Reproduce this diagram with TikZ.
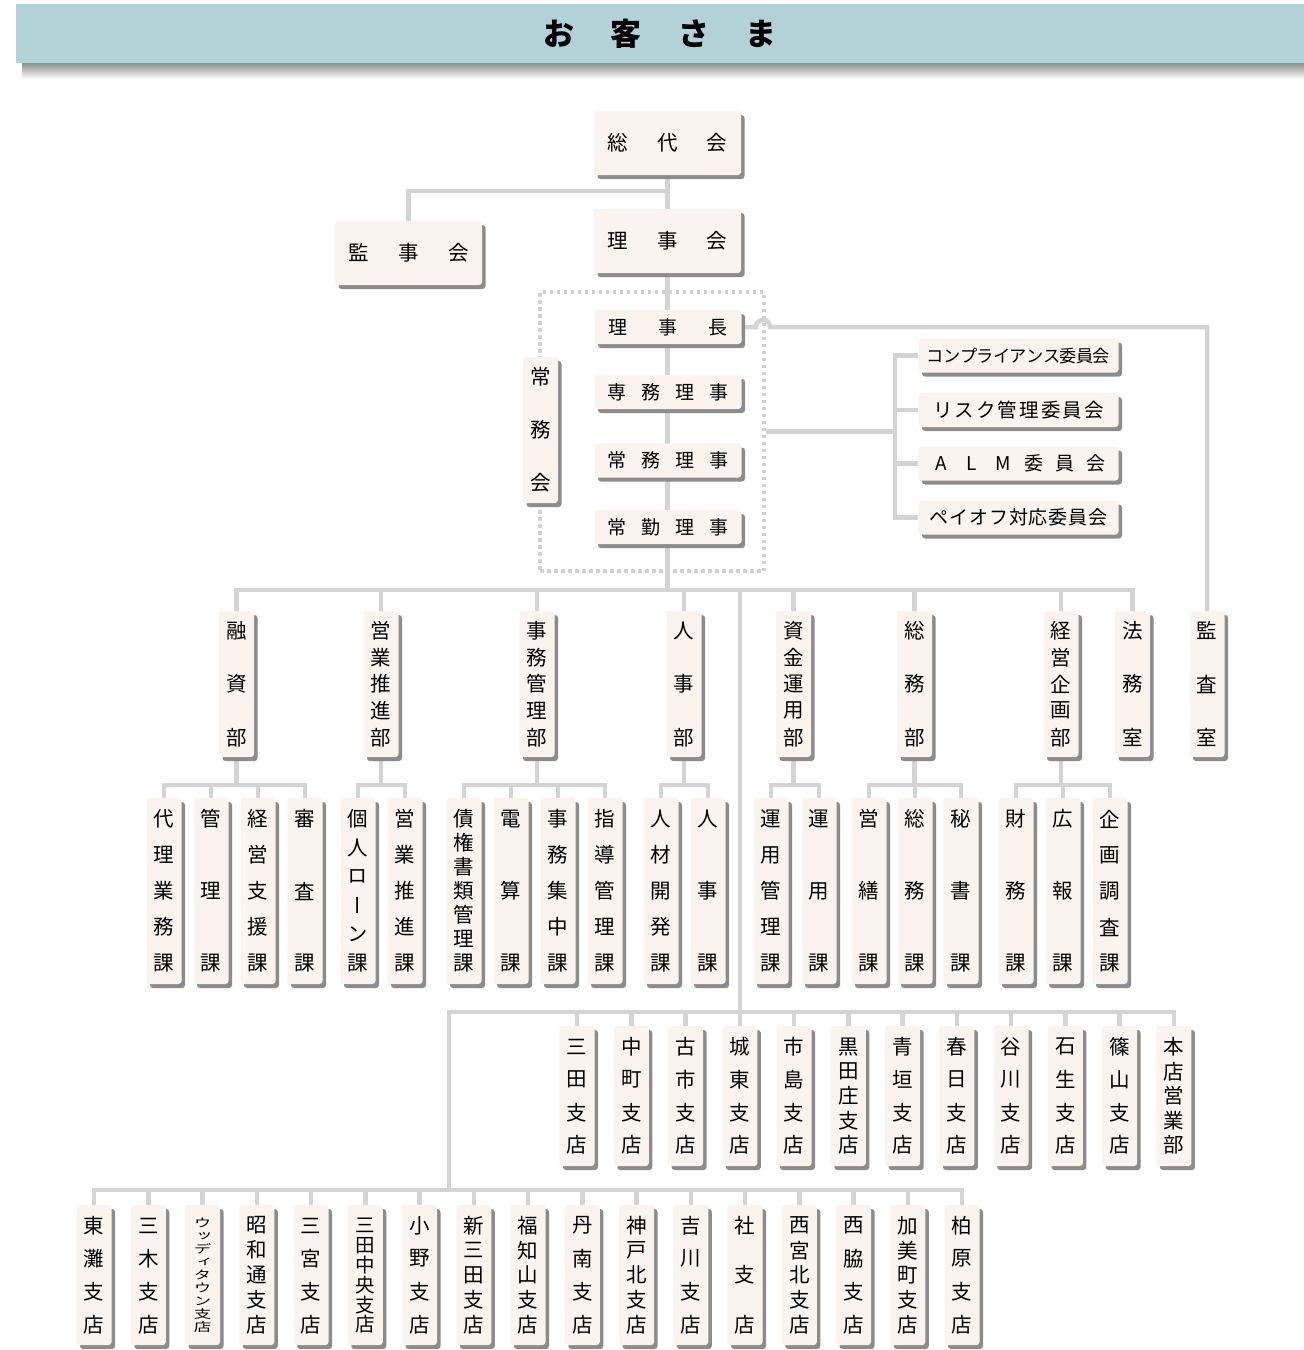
\documentclass[tikz,border=0pt]{standalone}
\usepackage{graphicx}
\usepackage{fontspec}
\setmainfont{Noto Sans CJK JP}
\newfontfamily\vjp[RawFeature=+vert]{Noto Sans CJK JP}
\usetikzlibrary{shadows}
\definecolor{boxfill}{RGB}{251,243,237}
\definecolor{linec}{RGB}{212,212,212}
\definecolor{dotc}{RGB}{210,210,210}
\definecolor{shadowc}{RGB}{140,140,140}
\definecolor{headc}{RGB}{178,210,216}
\pgfdeclarelayer{bg}\pgfsetlayers{bg,main}
\makeatletter
\def\vsp@sc{1}
\newcommand\vscale[1]{\def\vsp@sc{#1}}
\def\vsp@loop#1{\ifx#1\relax\else
  \hbox to 1.4em{\hss\vbox to \vsp@h{\vss\hbox{\scalebox{1}[\vsp@sc]{#1}}\vss}\hss}%
  \expandafter\vsp@loop\fi}
\newcommand\spreadv[2]{\vbox{\offinterlineskip\edef\vsp@h{#1}\edef\vsp@list{#2}%
  \kern-\dimexpr\vsp@h/2\relax
  \expandafter\vsp@loop\vsp@list\relax
  \kern-\dimexpr\vsp@h/2\relax}}
\def\hsp@loop#1{\ifx#1\relax\else\makebox[\hsp@w]{#1}\expandafter\hsp@loop\fi}
\newcommand\spreadh[2]{\edef\hsp@w{#1}\edef\hsp@list{#2}%
  \kern-\dimexpr\hsp@w/2\relax\expandafter\hsp@loop\hsp@list\relax\kern-\dimexpr\hsp@w/2\relax}
\makeatother
\begin{document}
\begin{tikzpicture}[x=1pt,y=-1pt,
 box/.style={fill=boxfill,rounded corners=3pt,inner sep=0pt,
   drop shadow={shadow xshift=3.5pt,shadow yshift=-4pt,opacity=1,fill=shadowc}},
 bigbox/.style={box,minimum width=147pt,minimum height=64pt,font=\fontsize{20.5}{20.5}\selectfont},
 smallbox/.style={box,minimum width=147pt,minimum height=34pt,font=\fontsize{19}{19}\selectfont},
 combox/.style={box,minimum width=200pt,minimum height=34pt,font=\fontsize{19}{19}\selectfont},
 vertbox/.style={box,minimum width=35pt,font=\vjp\fontsize{20.5}{20.5}\selectfont},
 conn/.style={draw=linec,line width=4.5pt},
 dotframe/.style={draw=dotc,line width=4pt,dash pattern=on 3.5pt off 3.5pt,inner sep=0pt},
 headbox/.style={fill=headc,inner sep=0pt,minimum width=1288pt,minimum height=59pt,
   font=\bfseries\fontsize{31}{31}\selectfont}
]
\begin{pgfonlayer}{bg}
\fill[white] (0,0) rectangle (1304,1350);
\shade[top color=shadowc,bottom color=white] (22,63) rectangle (1304,79);
\node[dotframe,minimum width=224pt,minimum height=279pt] (jf) at (652,431.5) {};
\end{pgfonlayer}
\useasboundingbox (0,0) rectangle (1304,1350);

\node[headbox] (okyaku) at (660,33.5) {\spreadh{67.5pt}{お客さま}};

\node[bigbox] (soudai) at (667.5,143) {\spreadh{49.5pt}{総代会}};
\node[bigbox] (rijikai) at (667.5,241) {\spreadh{49.5pt}{理事会}};
\node[bigbox] (kanjikai) at (408.5,253) {\spreadh{50pt}{監事会}};
\node[smallbox] (rijicho) at (668,327) {\spreadh{50.5pt}{理事長}};
\node[smallbox] (senmu) at (668,392) {\spreadh{33.7pt}{専務理事}};
\node[smallbox] (joumu) at (668,460.5) {\spreadh{34pt}{常務理事}};
\node[smallbox] (joukin) at (668,527) {\spreadh{34pt}{常勤理事}};
\node[vertbox,minimum height=146pt] (joumukai) at (540.5,430) {\spreadv{53pt}{常務会}};

\node[combox,font=\fontsize{17.2}{17.2}\selectfont] (c1) at (1018.5,355.5) {\spreadh{16.6pt}{コンプライアンス委員会}};
\node[combox,font=\fontsize{19.5}{19.5}\selectfont] (c2) at (1018.5,410) {\spreadh{21.6pt}{リスク管理委員会}};
\node[combox] (c3) at (1018.5,463.5) {\spreadh{31pt}{ALM委員会}};
\node[combox] (c4) at (1018.5,517.5) {\spreadh{19.8pt}{ペイオフ対応委員会}};

\node[vertbox,minimum height=146pt] (kansa) at (1207,684) {\spreadv{53.5pt}{監査室}};

\coordinate (j1) at (667.5,191);
\coordinate (dbus) at (667.5,590);
\coordinate (trunk) at (740,590);
\coordinate (b1bus) at (740,1012);
\coordinate (b2bus) at (449,1190);
\coordinate (cbus) at (895,431.5);

\begin{pgfonlayer}{bg}
\draw[conn] (soudai.south) -- (rijikai.north);
\draw[conn] (kanjikai.north) |- (j1);
\draw[conn] (rijikai.south) -- (dbus);
\draw[conn] (rijicho.east) -- (756,327) .. controls (756,317.7) and (770,317.7) .. (770,327) -| (kansa.north);
\draw[conn] (jf.east) -- (cbus);
\foreach \c in {c1,c2,c3,c4} \draw[conn] (\c.west) -| (cbus);
\draw[conn] (trunk) -- (b1bus);
\draw[conn] (b1bus) -| (b2bus);
\end{pgfonlayer}

\foreach \x/\t/\s/\n in {236.5/融資部/53.5/yushi, 381/営業推進部/26.75/eigyo,
  537/事務管理部/26.75/jimu, 684/人事部/53.5/jinji, 793.5/資金運用部/26.75/shikin,
  914.5/総務部/53.5/somu, 1061/経営企画部/26.75/keiei, 1132.5/法務室/53.5/houmu}{
  \node[vertbox,minimum height=146pt] (\n) at (\x,684) {\spreadv{\s pt}{\t}};
  \begin{pgfonlayer}{bg}\draw[conn] (dbus) -| (\n.north);\end{pgfonlayer}
}

\foreach \x/\t/\s/\p [count=\i] in {164/代理業務課/36/yushi, 211/管理課/72/yushi,
  258/経営支援課/36/yushi, 305/審査課/72/yushi, 358/個人ローン課/28.8/eigyo,
  405/営業推進課/36/eigyo, 464/債権書類管理課/24/jimu, 511/電算課/72/jimu,
  558/事務集中課/36/jimu, 605/指導管理課/36/jimu, 661/人材開発課/36/jinji,
  708/人事課/72/jinji, 771/運用管理課/36/shikin, 819/運用課/72/shikin,
  869/営繕課/72/somu, 915/総務課/72/somu, 961/秘書課/72/somu,
  1016/財務課/72/keiei, 1063/広報課/72/keiei, 1110/企画調査課/36/keiei}{
  \node[vertbox,minimum height=186pt] (sec\i) at (\x,891) {\spreadv{\s pt}{\t}};
  \begin{pgfonlayer}{bg}\draw[conn] (\p.south) -- ++(0,28) -| (sec\i.north);\end{pgfonlayer}
}

\foreach \t/\s [count=\i from 0] in {三田支店/32.7, 中町支店/32.7, 古市支店/32.7,
  城東支店/32.7, 市島支店/32.7, 黒田庄支店/24.5, 青垣支店/32.7, 春日支店/32.7,
  谷川支店/32.7, 石生支店/32.7, 篠山支店/32.7, 本店営業部/24.5}{
  \node[vertbox,minimum height=140pt] (ra\i) at ({577+54.27*\i},1096) {\spreadv{\s pt}{\t}};
  \begin{pgfonlayer}{bg}\draw[conn] (b1bus) -| (ra\i.north);\end{pgfonlayer}
}

\foreach \t/\s/\fs/\vs [count=\i from 0] in {東灘支店/33/20.5/1, 三木支店/33/20.5/1,
  ウッディタウン支店/13/17.5/0.68, 昭和通支店/24.75/20.5/1, 三宮支店/33/20.5/1,
  三田中央支店/19.8/19.5/1, 小野支店/33/20.5/1, 新三田支店/24.75/20.5/1,
  福知山支店/24.75/20.5/1, 丹南支店/33/20.5/1, 神戸北支店/24.75/20.5/1,
  吉川支店/33/20.5/1, 社支店/49.5/20.5/1, 西宮北支店/24.75/20.5/1, 西脇支店/33/20.5/1,
  加美町支店/24.75/20.5/1, 柏原支店/33/20.5/1}{
  \node[vertbox,minimum height=140pt,font=\vjp\fontsize{\fs}{\fs}\selectfont\vscale{\vs}]
    (rb\i) at ({94+54.25*\i},1275) {\spreadv{\s pt}{\t}};
  \begin{pgfonlayer}{bg}\draw[conn] (b2bus) -| (rb\i.north);\end{pgfonlayer}
}
\end{tikzpicture}
\end{document}
